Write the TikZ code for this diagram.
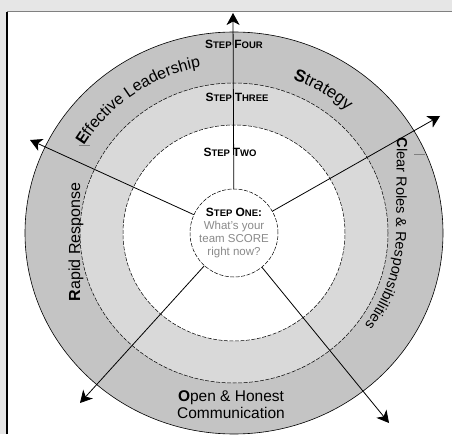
\documentclass[tikz,border=0pt]{standalone}
\usepackage{fontspec}
\setmainfont{Liberation Sans}
\usetikzlibrary{arrows.meta,decorations.text}
\definecolor{outerring}{HTML}{C4C4C4}
\definecolor{midring}{HTML}{D9D9D9}
\definecolor{pagegray}{HTML}{E6E6E6}
\definecolor{asktext}{HTML}{8A8A8A}
\newcommand{\stepsc}[2]{{\fontsize{12}{14}\selectfont #1}{\fontsize{9.5}{11}\selectfont #2}}
\newcommand{\labfont}{\fontsize{16}{18}\selectfont}
\newcommand{\rolefont}{\fontsize{14.5}{17}\selectfont}
\tikzset{
	ray/.style={line width=0.8pt, -{Stealth[length=12pt,width=13pt,inset=3.5pt]}},
	ringline/.style={line width=0.5pt, dash pattern=on 4pt off 1.5pt},
	steplabel/.style={font=\bfseries, inner sep=0pt},
	curvedlabel/.style={decorate, decoration={text along path, #1}},
}

\begin{document}
\begin{tikzpicture}[x=1pt,y=1pt]
	\useasboundingbox (0,0) rectangle (452,434);

	% page and frame
	\fill[pagegray] (0,0) rectangle (452,434);
	\fill[white] (7,0) rectangle (452,422);
	\draw[gray, line width=1pt] (7,422) -- (452,422);
	\draw[black, line width=1.2pt] (7,0) -- (7,422);

	% rings
	\coordinate (c) at (234,201);
	\filldraw[fill=outerring, draw=black, line width=0.6pt] (c) ellipse[x radius=209, y radius=201];
	\fill[midring] (c) ellipse[x radius=154, y radius=150];
	\draw[ringline] (c) ellipse[x radius=154, y radius=150];
	\fill[white] (c) ellipse[x radius=111, y radius=108];
	\draw[ringline] (c) ellipse[x radius=111, y radius=108];

	% step one
	\node[circle, draw, ringline, fill=white, minimum size=88pt, inner sep=0pt, align=center,
		font=\fontsize{11.5}{13}\selectfont] (one) at (c)
		{\textbf{\stepsc{S}{TEP} \stepsc{O}{NE}:}\\\textcolor{asktext}{What's your}\\
		\textcolor{asktext}{team SCORE}\\\textcolor{asktext}{right now?}};

	% rays
	\coordinate (tipN) at (233,421);
	\coordinate (tipNW) at (30,294);
	\coordinate (tipNE) at (440,318);
	\coordinate (tipSW) at (80,31);
	\coordinate (tipSE) at (389,11);
	\foreach \t in {N,NW,NE,SW,SE}
		\draw[ray] (one) -- (tip\t);

	% steps
	\node[steplabel] (four) at (234,390) {\stepsc{S}{TEP} \stepsc{F}{OUR}};
	\node[steplabel] (three) at (237,337) {\stepsc{S}{TEP} \stepsc{T}{HREE}};
	\node[steplabel] (two) at (230,282) {\stepsc{S}{TEP} \stepsc{T}{WO}};

	% SCORE labels
	\path[curvedlabel={text align=center, text={|\labfont\bfseries|E|\labfont|ffective Leadership}}]
		([shift={(152:175 and 169)}]c) arc[start angle=152, end angle=98, x radius=175, y radius=169];
	\path[curvedlabel={text align=center, text={|\fontsize{17}{19}\selectfont\bfseries|S|\fontsize{17}{19}\selectfont|trategy}}]
		([shift={(72:170 and 164)}]c) arc[start angle=72, end angle=46, x radius=170, y radius=164];
	\path[curvedlabel={text={|\rolefont\bfseries|C|\rolefont|lear Roles {\&} Responsibilities}}]
		(397,296) -- (396,201) arc[start angle=0, end angle=-45, x radius=162, y radius=156];
	\node[rotate=90, font=\labfont] (rapid) at (76,192) {\textbf{R}apid Response};
	\node[font=\fontsize{15.5}{17}\selectfont, align=center] (open) at (231,29)
		{\textbf{O}pen \& Honest\\Communication};

	% ticks
	\draw[gray, line width=0.6pt] (79,289) -- (90,289);
	\draw[gray, line width=0.6pt] (414,280) -- (425,280);
\end{tikzpicture}
\end{document}
